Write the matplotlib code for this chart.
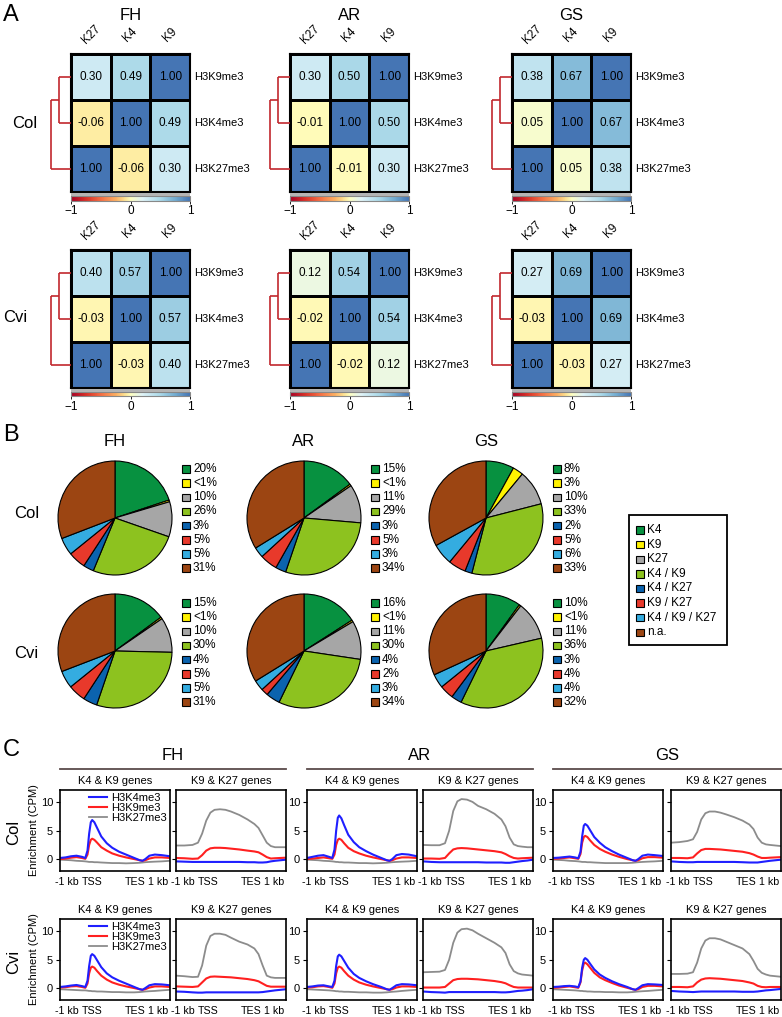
import numpy as np
import matplotlib
matplotlib.use('Agg')
import matplotlib.pyplot as plt
from matplotlib.colors import LinearSegmentedColormap, Normalize
from matplotlib.patches import Rectangle
from matplotlib.transforms import ScaledTranslation
import matplotlib.cm as cm

plt.rcParams['font.family'] = ['Liberation Sans', 'DejaVu Sans']
plt.rcParams['axes.unicode_minus'] = True

W, H = 782, 1017

GROUPS = ['FH', 'AR', 'GS']
ACCESSIONS = ['Col', 'Cvi']
ROW_MARKS = ['H3K9me3', 'H3K4me3', 'H3K27me3']
COL_MARKS = ['K27', 'K4', 'K9']

# ---------------- Panel A: pairwise correlations (K4-K9, K9-K27, K4-K27)
CORR_COL_FH = [0.49, 0.30, -0.06]
CORR_COL_AR = [0.50, 0.30, -0.01]
CORR_COL_GS = [0.67, 0.38, 0.05]
CORR_CVI_FH = [0.57, 0.40, -0.03]
CORR_CVI_AR = [0.54, 0.12, -0.02]
CORR_CVI_GS = [0.69, 0.27, -0.03]

# ---------------- Panel B: pie shares (%), "<1%" stored as 0.5
PIE_CATEGORIES = ['K4', 'K9', 'K27', 'K4 / K9', 'K4 / K27', 'K9 / K27', 'K4 / K9 / K27', 'n.a.']
PIE_COLORS = ['#079140', '#fff200', '#a6a6a6', '#8dc21f', '#0b63ae', '#e8392b', '#34ace0', '#9c4512']
PIE_COL_FH = [20, 0.5, 10, 26, 3, 5, 5, 31]
PIE_COL_AR = [15, 0.5, 11, 29, 3, 5, 3, 34]
PIE_COL_GS = [8, 3, 10, 33, 2, 5, 6, 33]
PIE_CVI_FH = [15, 0.5, 10, 30, 4, 5, 5, 31]
PIE_CVI_AR = [16, 0.5, 11, 30, 4, 2, 3, 34]
PIE_CVI_GS = [10, 0.5, 11, 36, 3, 4, 4, 32]

# ---------------- Panel C: metagene profiles (CPM)
X_K4K9 = [0, 0.2, 0.4, 0.6, 0.8, 0.92, 1.0, 1.06, 1.12, 1.17, 1.25, 1.35, 1.5, 1.7, 1.9,
          2.15, 2.4, 2.7, 2.9, 3.0, 3.1, 3.25, 3.45, 3.7, 4.0]
X_K9K27 = [0, 0.3, 0.6, 0.8, 0.95, 1.1, 1.25, 1.4, 1.6, 1.8, 2.0, 2.3, 2.6, 2.85, 3.0,
           3.15, 3.3, 3.45, 3.6, 3.8, 4.0]
X_TICKS = [0, 1, 3, 4]
X_TICKLABELS = ['-1 kb', 'TSS', 'TES', '1 kb']

# Col, FH
COL_FH_K4K9_K4 = [0.2, 0.3, 0.5, 0.6, 0.4, 0.2, 1.5, 4.5, 6.5, 6.9, 6.5, 5.5, 4.0, 2.8, 2.0, 1.3, 0.8, 0.2, -0.2, -0.3, 0.0, 0.6, 0.8, 0.7, 0.5]
COL_FH_K4K9_K9 = [0.0, 0.1, 0.25, 0.35, 0.2, 0.05, 0.8, 2.5, 3.4, 3.6, 3.4, 2.9, 2.1, 1.5, 1.0, 0.6, 0.3, 0.0, -0.2, -0.3, -0.2, 0.1, 0.3, 0.3, 0.2]
COL_FH_K4K9_K27 = [-0.1, -0.15, -0.2, -0.3, -0.35, -0.4, -0.45, -0.5, -0.5, -0.5, -0.55, -0.55, -0.6, -0.65, -0.7, -0.7, -0.75, -0.7, -0.65, -0.6, -0.55, -0.5, -0.45, -0.4, -0.3]
COL_FH_K9K27_K4 = [-0.4, -0.45, -0.5, -0.5, -0.5, -0.5, -0.5, -0.5, -0.5, -0.5, -0.5, -0.5, -0.55, -0.55, -0.6, -0.6, -0.55, -0.4, -0.3, -0.2, -0.1]
COL_FH_K9K27_K9 = [0.2, 0.15, 0.05, 0.1, 0.7, 1.5, 1.9, 2.0, 2.0, 1.95, 1.85, 1.7, 1.5, 1.35, 1.2, 0.8, 0.35, 0.1, 0.15, 0.2, 0.25]
COL_FH_K9K27_K27 = [2.4, 2.4, 2.5, 2.9, 4.5, 6.8, 8.2, 8.7, 8.8, 8.7, 8.4, 7.8, 7.0, 6.2, 5.5, 4.2, 2.9, 2.3, 2.1, 2.1, 2.1]
# Col, AR
COL_AR_K4K9_K4 = [0.2, 0.4, 0.6, 0.7, 0.4, 0.2, 1.7, 5.0, 7.3, 7.7, 7.2, 6.0, 4.3, 3.0, 2.1, 1.4, 0.8, 0.2, -0.2, -0.3, 0.0, 0.7, 0.9, 0.8, 0.5]
COL_AR_K4K9_K9 = [0.0, 0.1, 0.2, 0.3, 0.15, 0.05, 0.8, 2.5, 3.4, 3.6, 3.4, 2.8, 2.0, 1.4, 1.0, 0.6, 0.3, 0.0, -0.2, -0.3, -0.2, 0.1, 0.3, 0.3, 0.2]
COL_AR_K4K9_K27 = [-0.1, -0.15, -0.2, -0.3, -0.35, -0.4, -0.45, -0.5, -0.5, -0.55, -0.55, -0.6, -0.6, -0.65, -0.7, -0.7, -0.75, -0.7, -0.65, -0.6, -0.55, -0.5, -0.45, -0.4, -0.3]
COL_AR_K9K27_K4 = [-0.4, -0.5, -0.55, -0.55, -0.55, -0.55, -0.55, -0.55, -0.55, -0.55, -0.55, -0.6, -0.6, -0.6, -0.65, -0.65, -0.55, -0.45, -0.35, -0.25, -0.1]
COL_AR_K9K27_K9 = [0.1, 0.1, 0.05, 0.2, 1.0, 1.7, 1.9, 1.95, 1.9, 1.8, 1.7, 1.55, 1.4, 1.2, 0.9, 0.5, 0.2, 0.1, 0.15, 0.2, 0.25]
COL_AR_K9K27_K27 = [2.5, 2.45, 2.45, 2.8, 5.0, 8.5, 10.2, 10.6, 10.5, 10.1, 9.4, 8.8, 8.0, 7.0, 5.8, 3.8, 2.6, 2.3, 2.2, 2.1, 2.1]
# Col, GS
COL_GS_K4K9_K4 = [0.2, 0.25, 0.35, 0.45, 0.3, 0.15, 1.3, 4.0, 5.9, 6.2, 5.9, 5.1, 3.9, 2.9, 2.1, 1.4, 0.8, 0.2, -0.2, -0.3, 0.0, 0.6, 0.8, 0.7, 0.55]
COL_GS_K4K9_K9 = [0.05, 0.1, 0.2, 0.3, 0.15, 0.05, 0.9, 2.9, 3.9, 4.1, 3.9, 3.3, 2.5, 1.8, 1.3, 0.8, 0.4, 0.0, -0.2, -0.3, -0.2, 0.15, 0.35, 0.35, 0.25]
COL_GS_K4K9_K27 = [-0.1, -0.15, -0.2, -0.3, -0.35, -0.4, -0.45, -0.5, -0.5, -0.5, -0.55, -0.55, -0.6, -0.65, -0.7, -0.7, -0.7, -0.7, -0.65, -0.6, -0.55, -0.5, -0.45, -0.4, -0.3]
COL_GS_K9K27_K4 = [-0.4, -0.5, -0.55, -0.55, -0.5, -0.5, -0.5, -0.5, -0.5, -0.5, -0.5, -0.5, -0.55, -0.6, -0.6, -0.6, -0.5, -0.4, -0.3, -0.2, -0.1]
COL_GS_K9K27_K9 = [0.2, 0.2, 0.15, 0.3, 1.0, 1.6, 1.8, 1.8, 1.75, 1.7, 1.6, 1.45, 1.3, 1.05, 0.8, 0.45, 0.2, 0.2, 0.25, 0.3, 0.35]
COL_GS_K9K27_K27 = [2.9, 3.0, 3.2, 3.5, 4.8, 7.0, 8.1, 8.4, 8.4, 8.2, 7.9, 7.4, 6.8, 6.1, 5.3, 3.8, 2.9, 2.6, 2.5, 2.4, 2.3]
# Cvi, FH
CVI_FH_K4K9_K4 = [0.2, 0.3, 0.45, 0.55, 0.35, 0.2, 1.3, 3.9, 5.7, 6.0, 5.7, 4.9, 3.7, 2.6, 1.9, 1.3, 0.8, 0.2, -0.2, -0.3, 0.0, 0.5, 0.7, 0.65, 0.5]
CVI_FH_K4K9_K9 = [0.1, 0.15, 0.3, 0.35, 0.2, 0.05, 0.8, 2.6, 3.6, 3.8, 3.6, 3.0, 2.2, 1.5, 1.0, 0.6, 0.3, 0.0, -0.2, -0.3, -0.2, 0.1, 0.3, 0.3, 0.2]
CVI_FH_K4K9_K27 = [-0.2, -0.25, -0.3, -0.35, -0.4, -0.4, -0.45, -0.5, -0.5, -0.55, -0.55, -0.6, -0.6, -0.65, -0.7, -0.7, -0.75, -0.75, -0.7, -0.65, -0.6, -0.55, -0.5, -0.4, -0.3]
CVI_FH_K9K27_K4 = [-0.6, -0.65, -0.75, -0.8, -0.8, -0.75, -0.75, -0.75, -0.75, -0.75, -0.75, -0.75, -0.75, -0.75, -0.75, -0.7, -0.6, -0.5, -0.4, -0.3, -0.2]
CVI_FH_K9K27_K9 = [0.3, 0.25, 0.2, 0.3, 1.0, 1.7, 2.0, 2.05, 2.0, 1.95, 1.9, 1.75, 1.6, 1.4, 1.2, 0.8, 0.4, 0.25, 0.25, 0.25, 0.25]
CVI_FH_K9K27_K27 = [2.2, 2.1, 1.95, 2.0, 4.0, 7.5, 9.2, 9.6, 9.6, 9.4, 8.9, 8.2, 7.7, 7.0, 6.0, 4.0, 2.2, 1.9, 1.8, 1.8, 1.8]
# Cvi, AR
CVI_AR_K4K9_K4 = [0.2, 0.3, 0.45, 0.5, 0.3, 0.2, 1.3, 3.9, 5.6, 5.9, 5.6, 4.8, 3.6, 2.5, 1.8, 1.2, 0.7, 0.2, -0.2, -0.3, 0.0, 0.5, 0.7, 0.65, 0.5]
CVI_AR_K4K9_K9 = [0.1, 0.15, 0.3, 0.35, 0.2, 0.05, 0.8, 2.6, 3.6, 3.8, 3.6, 3.0, 2.2, 1.5, 1.0, 0.6, 0.3, 0.0, -0.2, -0.3, -0.2, 0.1, 0.3, 0.3, 0.2]
CVI_AR_K4K9_K27 = [-0.2, -0.25, -0.3, -0.35, -0.4, -0.45, -0.5, -0.55, -0.55, -0.6, -0.6, -0.65, -0.65, -0.7, -0.75, -0.75, -0.8, -0.8, -0.75, -0.7, -0.65, -0.6, -0.5, -0.4, -0.3]
CVI_AR_K9K27_K4 = [-0.6, -0.7, -0.75, -0.8, -0.7, -0.7, -0.7, -0.7, -0.7, -0.7, -0.7, -0.7, -0.7, -0.75, -0.75, -0.7, -0.6, -0.5, -0.45, -0.35, -0.2]
CVI_AR_K9K27_K9 = [0.1, 0.1, 0.1, 0.2, 0.8, 1.4, 1.6, 1.65, 1.65, 1.6, 1.55, 1.4, 1.25, 1.05, 0.85, 0.5, 0.2, 0.1, 0.1, 0.1, 0.1]
CVI_AR_K9K27_K27 = [2.8, 2.85, 2.9, 3.2, 5.0, 8.0, 9.8, 10.4, 10.5, 10.2, 9.6, 8.8, 8.0, 7.2, 6.2, 4.2, 3.0, 2.6, 2.4, 2.3, 2.2]
# Cvi, GS
CVI_GS_K4K9_K4 = [0.2, 0.25, 0.35, 0.4, 0.3, 0.15, 1.2, 3.6, 5.0, 5.3, 5.0, 4.3, 3.3, 2.4, 1.8, 1.2, 0.7, 0.2, -0.2, -0.3, 0.0, 0.5, 0.7, 0.65, 0.55]
CVI_GS_K4K9_K9 = [0.05, 0.1, 0.2, 0.3, 0.15, 0.05, 1.0, 3.1, 4.3, 4.5, 4.2, 3.6, 2.7, 1.9, 1.4, 0.9, 0.45, 0.05, -0.2, -0.3, -0.2, 0.2, 0.4, 0.4, 0.3]
CVI_GS_K4K9_K27 = [-0.2, -0.25, -0.3, -0.35, -0.4, -0.45, -0.5, -0.5, -0.55, -0.55, -0.6, -0.6, -0.65, -0.65, -0.7, -0.7, -0.75, -0.75, -0.7, -0.65, -0.6, -0.55, -0.5, -0.4, -0.3]
CVI_GS_K9K27_K4 = [-0.5, -0.6, -0.65, -0.7, -0.65, -0.6, -0.6, -0.6, -0.6, -0.6, -0.6, -0.6, -0.65, -0.65, -0.65, -0.6, -0.5, -0.4, -0.35, -0.25, -0.15]
CVI_GS_K9K27_K9 = [0.2, 0.2, 0.15, 0.3, 1.0, 1.5, 1.7, 1.75, 1.7, 1.65, 1.55, 1.4, 1.25, 1.0, 0.8, 0.4, 0.2, 0.15, 0.2, 0.2, 0.2]
CVI_GS_K9K27_K27 = [2.5, 2.5, 2.55, 2.8, 4.5, 7.0, 8.4, 8.8, 8.8, 8.6, 8.2, 7.6, 7.0, 6.0, 4.8, 3.4, 2.7, 2.4, 2.2, 2.1, 2.0]

PROFILE_MARKS = ['H3K4me3', 'H3K9me3', 'H3K27me3']
PROFILE_COLORS = ['#1f1fff', '#ff2020', '#8c8c8c']
GENE_SETS = ['K4 & K9 genes', 'K9 & K27 genes']

CORR = {('Col', 'FH'): CORR_COL_FH, ('Col', 'AR'): CORR_COL_AR, ('Col', 'GS'): CORR_COL_GS,
        ('Cvi', 'FH'): CORR_CVI_FH, ('Cvi', 'AR'): CORR_CVI_AR, ('Cvi', 'GS'): CORR_CVI_GS}
PIES = {('Col', 'FH'): PIE_COL_FH, ('Col', 'AR'): PIE_COL_AR, ('Col', 'GS'): PIE_COL_GS,
        ('Cvi', 'FH'): PIE_CVI_FH, ('Cvi', 'AR'): PIE_CVI_AR, ('Cvi', 'GS'): PIE_CVI_GS}
PROFILES = {
    ('Col', 'FH'): [(COL_FH_K4K9_K4, COL_FH_K4K9_K9, COL_FH_K4K9_K27), (COL_FH_K9K27_K4, COL_FH_K9K27_K9, COL_FH_K9K27_K27)],
    ('Col', 'AR'): [(COL_AR_K4K9_K4, COL_AR_K4K9_K9, COL_AR_K4K9_K27), (COL_AR_K9K27_K4, COL_AR_K9K27_K9, COL_AR_K9K27_K27)],
    ('Col', 'GS'): [(COL_GS_K4K9_K4, COL_GS_K4K9_K9, COL_GS_K4K9_K27), (COL_GS_K9K27_K4, COL_GS_K9K27_K9, COL_GS_K9K27_K27)],
    ('Cvi', 'FH'): [(CVI_FH_K4K9_K4, CVI_FH_K4K9_K9, CVI_FH_K4K9_K27), (CVI_FH_K9K27_K4, CVI_FH_K9K27_K9, CVI_FH_K9K27_K27)],
    ('Cvi', 'AR'): [(CVI_AR_K4K9_K4, CVI_AR_K4K9_K9, CVI_AR_K4K9_K27), (CVI_AR_K9K27_K4, CVI_AR_K9K27_K9, CVI_AR_K9K27_K27)],
    ('Cvi', 'GS'): [(CVI_GS_K4K9_K4, CVI_GS_K4K9_K9, CVI_GS_K4K9_K27), (CVI_GS_K9K27_K4, CVI_GS_K9K27_K9, CVI_GS_K9K27_K27)],
}

# ---------------------------------------------------------------- figure
fig = plt.figure(figsize=(W / 100, H / 100), dpi=100)


def axpx(x0, y0, x1, y1, **kw):
    return fig.add_axes([x0 / W, 1 - y1 / H, (x1 - x0) / W, (y1 - y0) / H], **kw)


cmap = LinearSegmentedColormap.from_list('corr', [
    (0.0, '#a50026'), (0.125, '#d73027'), (0.25, '#f46d43'), (0.375, '#fdae61'),
    (0.45, '#fee090'), (0.5, '#ffffbf'), (0.6, '#e0f3f8'), (0.75, '#abd9e9'),
    (0.875, '#74add1'), (1.0, '#4575b4')])
norm = Normalize(-1, 1)

# layout (pixels)
HM_X = {'FH': 71, 'AR': 290, 'GS': 512}
HM_W = 119
HM_Y = {'Col': 54, 'Cvi': 250}
HM_H = 138
PIE_CX = {'FH': 115, 'AR': 304, 'GS': 486}
PIE_CY = {'Col': 518, 'Cvi': 651}
PIE_R = 57
LEG_Y0 = {'Col': 469, 'Cvi': 603}
C_X = {'FH': (60, 176), 'AR': (307, 423), 'GS': (553, 671)}
C_W = 110
C_Y = {'Col': 790, 'Cvi': 919}
C_H = 81
XLABEL_SHIFT_PX = [7, 5, -7, -12]

texts = []  # (x, y, s, kwargs) in pixel coordinates
rects = []
lines_px = []

# ---------------- Panel A
for acc in ACCESSIONS:
    for g in GROUPS:
        k4k9, k9k27, k4k27 = CORR[(acc, g)]
        M = np.array([[k9k27, k4k9, 1.0],
                      [k4k27, 1.0, k4k9],
                      [1.0, k4k27, k9k27]])
        x0, y0 = HM_X[g], HM_Y[acc]
        ax = axpx(x0, y0, x0 + HM_W, y0 + HM_H)
        ax.pcolormesh(np.arange(4), np.arange(4), M, cmap=cmap, norm=norm,
                      edgecolors='black', linewidth=1.0)
        ax.set_xlim(0, 3)
        ax.set_ylim(3, 0)
        ax.set_xticks([]); ax.set_yticks([])
        for s in ax.spines.values():
            s.set_linewidth(1.5)
        for i in range(3):
            for j in range(3):
                ax.text(j + 0.5, i + 0.5, f'{M[i, j]:.2f}', ha='center', va='center', fontsize=8.5)
            ax.text(3.1, i + 0.5, ROW_MARKS[i], ha='left', va='center', fontsize=8, clip_on=False)
        for j in range(3):
            ax.text(j + 0.5, -0.42, COL_MARKS[j], ha='center', va='center', rotation=45,
                    fontsize=8.5, clip_on=False)
        # dendrogram
        dax = axpx(x0 - 20, y0, x0, y0 + HM_H)
        dax.set_xlim(1.0, 0.0)
        dax.set_ylim(3, 0)
        dax.axis('off')
        h1, h2 = 0.6, 1.0
        dc = '#c1272d'
        for (xs, ys) in [([0, h1], [0.5, 0.5]), ([0, h1], [1.5, 1.5]), ([h1, h1], [0.5, 1.5]),
                         ([h1, h2], [1.0, 1.0]), ([0, h2], [2.5, 2.5]), ([h2, h2], [1.0, 2.5])]:
            dax.plot(xs, ys, color=dc, lw=1.2, clip_on=False, solid_capstyle='butt')
        # colour bar
        rects.append((x0, y0 + HM_H + 0.5, HM_W, 3.5, '#b4b4b4', 'none'))
        cax = axpx(x0, y0 + HM_H + 4, x0 + HM_W, y0 + HM_H + 8.5)
        cb = fig.colorbar(cm.ScalarMappable(norm=norm, cmap=cmap), cax=cax, orientation='horizontal')
        cb.set_ticks([-1, 0, 1])
        cb.ax.tick_params(labelsize=8.5, length=2, width=0.6, pad=1.5)
        cb.outline.set_edgecolor('#888888')
        cb.outline.set_linewidth(0.8)

for g in GROUPS:
    texts.append((HM_X[g] + HM_W / 2, 15.5, g, dict(fontsize=12, ha='center', va='center')))
texts.append((25, 123, 'Col', dict(fontsize=12, ha='center', va='center')))
texts.append((15, 318, 'Cvi', dict(fontsize=12, ha='center', va='center')))
texts.append((3, 15, 'A', dict(fontsize=17, ha='left', va='center')))

# ---------------- Panel B
for acc in ACCESSIONS:
    for g in GROUPS:
        vals = PIES[(acc, g)]
        cx, cy = PIE_CX[g], PIE_CY[acc]
        pad = 1.05
        ax = axpx(cx - PIE_R * pad, cy - PIE_R * pad, cx + PIE_R * pad, cy + PIE_R * pad)
        ax.pie(vals, colors=PIE_COLORS, startangle=90, counterclock=False, radius=1.0,
               wedgeprops=dict(edgecolor='black', linewidth=0.8))
        ax.set_xlim(-pad, pad); ax.set_ylim(-pad, pad)
        ax.set_aspect('equal')
        ax.axis('off')
        for i, v in enumerate(vals):
            yy = LEG_Y0[acc] + i * 14.15
            lab = '<1%' if v < 1 else f'{v:g}%'
            rects.append((cx + 67, yy - 3.7, 7.5, 7.5, PIE_COLORS[i], 'black'))
            texts.append((cx + 78, yy, lab, dict(fontsize=8.5, ha='left', va='center')))

for g in GROUPS:
    texts.append((PIE_CX[g], 442, g, dict(fontsize=12, ha='center', va='center')))
texts.append((27, 513, 'Col', dict(fontsize=12, ha='center', va='center')))
texts.append((26, 653, 'Cvi', dict(fontsize=12, ha='center', va='center')))
texts.append((3, 435, 'B', dict(fontsize=17, ha='left', va='center')))
# category legend box
rects.append((629, 515, 98, 130, 'white', 'black'))
for i, cat in enumerate(PIE_CATEGORIES):
    yy = 530 + i * 14.6
    rects.append((636, yy - 3.7, 7.5, 7.5, PIE_COLORS[i], 'black'))
    texts.append((647, yy, cat, dict(fontsize=8.5, ha='left', va='center')))

# ---------------- Panel C
for acc in ACCESSIONS:
    for g in GROUPS:
        for k, gs in enumerate(GENE_SETS):
            xl = C_X[g][k]
            yt = C_Y[acc]
            ax = axpx(xl, yt, xl + C_W, yt + C_H)
            xs = X_K4K9 if k == 0 else X_K9K27
            series = PROFILES[(acc, g)][k]
            for m in [2, 1, 0]:
                ax.plot(xs, series[m], color=PROFILE_COLORS[m], lw=1.5 if m < 2 else 1.3,
                        label=PROFILE_MARKS[m])
            ax.set_xlim(0, 4)
            ax.set_ylim(-2.1, 12.2)
            ax.set_yticks([0, 5, 10])
            ax.set_xticks(X_TICKS)
            ax.set_xticklabels(X_TICKLABELS)
            ax.tick_params(labelsize=8, length=3, width=0.8, pad=2)
            ax.tick_params(axis='x', length=0, pad=4, labelsize=7.7)
            for lbl, dx in zip(ax.get_xticklabels(), XLABEL_SHIFT_PX):
                lbl.set_transform(lbl.get_transform() + ScaledTranslation(dx / 100, 0, fig.dpi_scale_trans))
            if k == 1:
                ax.set_yticklabels([])
            for s in ax.spines.values():
                s.set_linewidth(1.2)
            ax.set_title(gs, fontsize=8, pad=4)
            if g == 'FH' and k == 0:
                ax.set_ylabel('Enrichment (CPM)', fontsize=8, labelpad=1)
                hs, ls = ax.get_legend_handles_labels()
                order = [2, 1, 0]
                ax.legend([hs[o] for o in order], [ls[o] for o in order], loc='upper right',
                          fontsize=8, frameon=False, handlelength=1.6, handletextpad=0.4,
                          labelspacing=0.0, borderpad=0.1, borderaxespad=0.15)

for g in GROUPS:
    x0 = C_X[g][0]
    x1 = C_X[g][1] + C_W
    texts.append(((x0 + x1) / 2, 756, g, dict(fontsize=12, ha='center', va='center')))
    lines_px.append(([x0, x1], [769, 769]))
texts.append((14, 832, 'Col', dict(fontsize=12, ha='center', va='center', rotation=90)))
texts.append((14, 962, 'Cvi', dict(fontsize=12, ha='center', va='center', rotation=90)))
texts.append((3, 750, 'C', dict(fontsize=17, ha='left', va='center')))

# ---------------- overlay in pixel coordinates
ov = fig.add_axes([0, 0, 1, 1], zorder=10)
ov.set_xlim(0, W); ov.set_ylim(H, 0)
ov.axis('off')
ov.patch.set_alpha(0)
for (x, y, w, h, fc, ec) in rects:
    ov.add_patch(Rectangle((x, y), w, h, facecolor=fc, edgecolor=ec,
                           linewidth=1.3 if w > 50 and fc == 'white' else (0 if ec == 'none' else 0.8)))
for (xs, ys) in lines_px:
    ov.plot(xs, ys, color='#5b4b4b', lw=1.3)
for (x, y, s, kw) in texts:
    ov.text(x, y, s, **kw)

fig.savefig('out.png', dpi=100)
